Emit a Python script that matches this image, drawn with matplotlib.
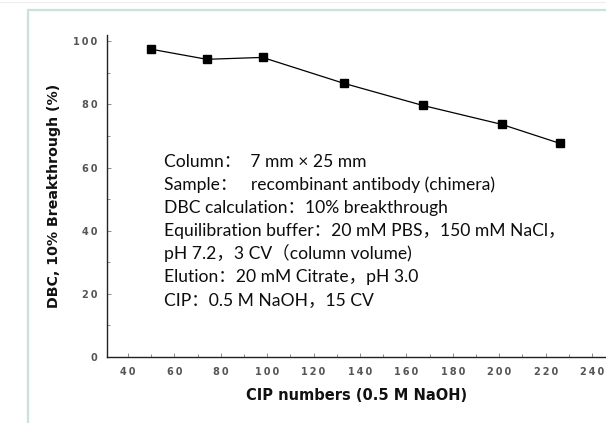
import matplotlib.pyplot as plt
from matplotlib.patches import Rectangle
from matplotlib.ticker import MultipleLocator

# data
cip_numbers = [50, 74, 98, 133, 167, 201, 226]
dbc_values = [97.5, 94.3, 94.9, 86.7, 79.7, 73.7, 67.7]

x_ticks = [40, 60, 80, 100, 120, 140, 160, 180, 200, 220, 240]
y_ticks = [0, 20, 40, 60, 80, 100]

info_lines = [
    "Column：  7 mm × 25 mm",
    "Sample：   recombinant antibody (chimera)",
    "DBC calculation：10% breakthrough",
    "Equilibration buffer：20 mM PBS，150 mM NaCl，",
    "pH 7.2，3 CV（column volume)",
    "Elution：20 mM Citrate，pH 3.0",
    "CIP：0.5 M NaOH，15 CV",
]

W, H = 606, 423
fig = plt.figure(figsize=(W / 100, H / 100), dpi=100)
fig.patch.set_facecolor('white')

# light teal frame around the figure
fig.patches.append(Rectangle((28 / W, -0.05), 1.0, 1 - 10 / H + 0.05,
                             transform=fig.transFigure, fill=False,
                             edgecolor='#c9e2dc', linewidth=1.6))
fig.add_artist(plt.Line2D([0, 1], [1 - 2 / H, 1 - 2 / H], color='#eeeeee',
                          linewidth=0.8, transform=fig.transFigure))

ax = fig.add_axes([107 / W, 66 / H, 499 / W, 322 / H])
ax.plot(cip_numbers, dbc_values, color='black', linewidth=0.9,
        marker='s', markersize=6, markerfacecolor='black', markeredgecolor='black')

ax.set_xlim(31, 246)
ax.set_ylim(0, 102)
ax.set_xticks(x_ticks)
ax.set_yticks(y_ticks)
# spread the digits a little, like the original labels
ax.set_xticklabels(['\u2009'.join(str(t)) for t in x_ticks])
ax.set_yticklabels(['\u2009'.join(str(t)) for t in y_ticks])
ax.xaxis.set_minor_locator(MultipleLocator(10))
ax.yaxis.set_minor_locator(MultipleLocator(10))

for side in ['top', 'right']:
    ax.spines[side].set_visible(False)
for side in ['left', 'bottom']:
    ax.spines[side].set_color('#222222')
    ax.spines[side].set_linewidth(1.0)

ax.tick_params(which='both', direction='in', color='#777777', width=0.6)
ax.tick_params(which='major', length=3, pad=7, labelsize=7, labelcolor='#555555')
ax.tick_params(which='minor', length=2)
for lab in ax.get_xticklabels() + ax.get_yticklabels():
    lab.set_fontweight('bold')
    lab.set_family('DejaVu Sans')

ax.set_xlabel('CIP numbers (0.5 M NaOH)', fontsize=10.5, fontweight='bold',
              family='DejaVu Sans', labelpad=8, color='#111111')
ax.set_ylabel('DBC, 10% Breakthrough (%)', fontsize=10.2, fontweight='bold',
              family='DejaVu Sans', labelpad=9, color='#111111')

# annotation block
x0 = 164
baseline0 = 167
step = 23
for i, line in enumerate(info_lines):
    fig.text(x0 / W, 1 - (baseline0 + i * step) / H, line,
             fontsize=12.6, va='baseline', ha='left', color='#0d0d0d',
             family=['Lato', 'Noto Sans CJK SC'])

fig.savefig('out.png', dpi=100)
